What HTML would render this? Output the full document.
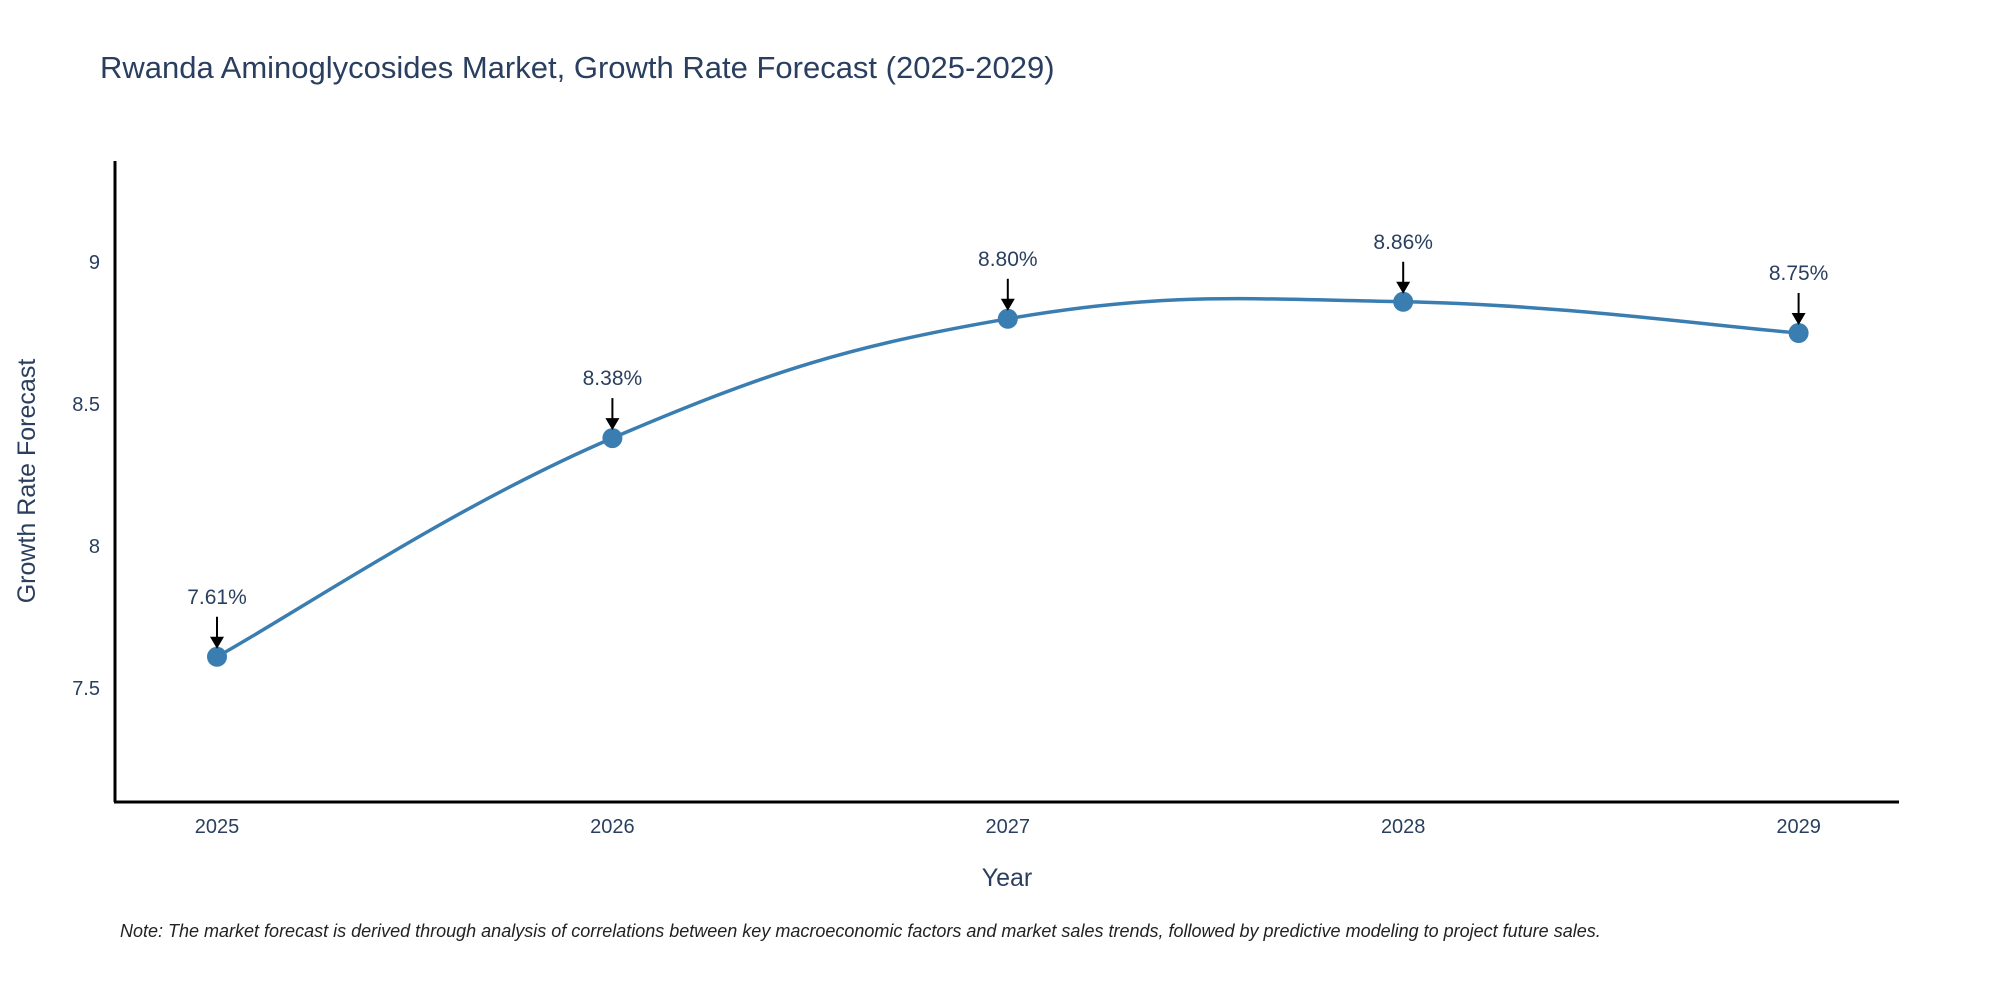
<!DOCTYPE html>
<html><head><meta charset="utf-8"><style>
body{margin:0;background:#fff}
svg{display:block;font-family:"Liberation Sans",sans-serif}
</style></head><body>
<svg id="chart" width="2000" height="1000" viewBox="0 0 2000 1000">
<text x="100" y="78" font-size="31" fill="#2a3f5f">Rwanda Aminoglycosides Market, Growth Rate Forecast (2025-2029)</text>
<g id="yticks"></g>
<g id="xticks"></g>
<line x1="115" y1="161" x2="115" y2="802" stroke="#000" stroke-width="3"/>
<line x1="114" y1="802" x2="1899" y2="802" stroke="#000" stroke-width="3"/>
<path id="line" fill="none" stroke="#3a7db1" stroke-width="3.5"/>
<g id="points"></g>
<text x="1007" y="886" font-size="25" fill="#2a3f5f" text-anchor="middle">Year</text>
<text transform="translate(35,481) rotate(-90)" font-size="25" fill="#2a3f5f" text-anchor="middle">Growth Rate Forecast</text>
<text x="120" y="937" font-size="18" font-style="italic" fill="#222">Note: The market forecast is derived through analysis of correlations between key macroeconomic factors and market sales trends, followed by predictive modeling to project future sales.</text>
</svg>
<script>
const years=[2025,2026,2027,2028,2029];
const values=[7.61,8.38,8.80,8.86,8.75];
const valueLabels=["7.61%","8.38%","8.80%","8.86%","8.75%"];
const yTicks=[7.5,8,8.5,9];
const yTickLabels=["7.5","8","8.5","9"];
const NS="http://www.w3.org/2000/svg";
function xs(v){return 217+(v-2025)*395.4;}
function ys(v){return 262-(v-9)*284;}
function mk(tag,attrs,parent){const e=document.createElementNS(NS,tag);for(const k in attrs)e.setAttribute(k,attrs[k]);parent.appendChild(e);return e;}
const yt=document.getElementById('yticks');
yTicks.forEach((t,i)=>{const e=mk('text',{x:100,y:ys(t)+7,'font-size':20,fill:'#2a3f5f','text-anchor':'end'},yt);e.textContent=yTickLabels[i];

});
const xt=document.getElementById('xticks');
years.forEach(y=>{const e=mk('text',{x:xs(y),y:833,'font-size':20,fill:'#2a3f5f','text-anchor':'middle'},xt);e.textContent=String(y);

});
const P=years.map((y,i)=>[xs(y),ys(values[i])]);
let d='M'+P[0][0]+','+P[0][1];
const s=0.2;
for(let i=0;i<P.length-1;i++){const p0=P[Math.max(i-1,0)],p1=P[i],p2=P[i+1],p3=P[Math.min(i+2,P.length-1)];
const c1=[p1[0]+(p2[0]-p0[0])*s,p1[1]+(p2[1]-p0[1])*s];const c2=[p2[0]-(p3[0]-p1[0])*s,p2[1]-(p3[1]-p1[1])*s];
d+=' C'+c1[0]+','+c1[1]+' '+c2[0]+','+c2[1]+' '+p2[0]+','+p2[1];}
document.getElementById('line').setAttribute('d',d);
const pg=document.getElementById('points');
P.forEach((p,i)=>{
const c=mk('circle',{cx:p[0],cy:p[1],r:10,fill:'#3a7db1'},pg);


const l=mk('line',{x1:p[0],y1:p[1]-40,x2:p[0],y2:p[1]-18,stroke:'#000','stroke-width':2},pg);


const a=mk('polygon',{points:(p[0]-7)+','+(p[1]-20)+' '+(p[0]+7)+','+(p[1]-20)+' '+p[0]+','+(p[1]-8),fill:'#000'},pg);


const t=mk('text',{x:p[0],y:p[1]-53,'font-size':21,fill:'#2a3f5f','text-anchor':'middle'},pg);t.textContent=valueLabels[i];


});
</script>
</body></html>
